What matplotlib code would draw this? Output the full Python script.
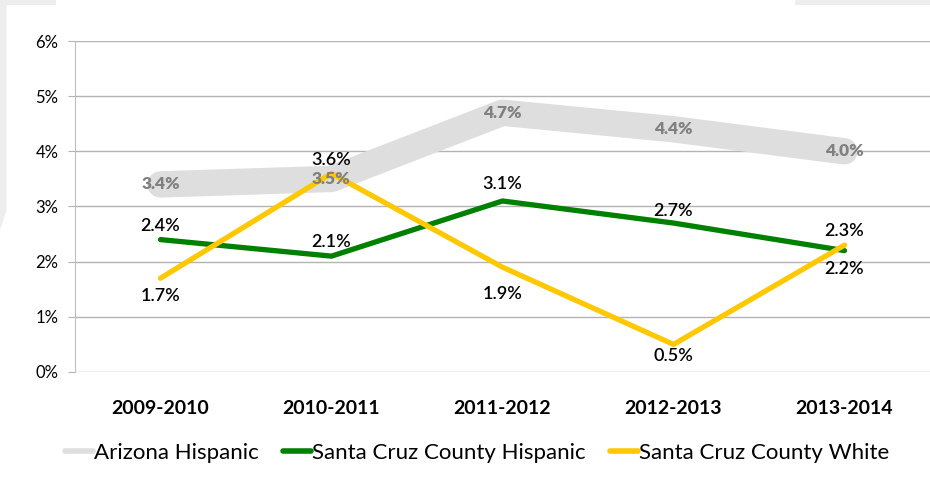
import matplotlib
matplotlib.use("Agg")
import matplotlib.pyplot as plt
from matplotlib.patches import Rectangle, Polygon

plt.rcParams['font.family'] = ['Lato', 'DejaVu Sans']

years = ["2009-2010", "2010-2011", "2011-2012", "2012-2013", "2013-2014"]
arizona_hispanic = [3.4, 3.5, 4.7, 4.4, 4.0]
santa_cruz_hispanic = [2.4, 2.1, 3.1, 2.7, 2.2]
santa_cruz_white = [1.7, 3.6, 1.9, 0.5, 2.3]
y_ticks = [0, 1, 2, 3, 4, 5, 6]

# label offsets in points (positive = above the point)
green_offsets = [10, 10, 12, 9, -13]
yellow_offsets = [-13, 10, -19, -8, 10]

fig = plt.figure(figsize=(9.3, 4.79), dpi=100)
fig.patch.set_facecolor("white")

# light slide frame around the chart
fig.add_artist(Rectangle((0, 0.99), 0.06, 0.01, transform=fig.transFigure,
                         facecolor="#EDEDED", edgecolor="none"))
fig.add_artist(Rectangle((0.855, 0.99), 0.145, 0.01, transform=fig.transFigure,
                         facecolor="#EDEDED", edgecolor="none"))
fig.add_artist(Polygon([(0, 0.99), (0.007, 0.99), (0.007, 0.56), (0, 0.52)],
                       closed=True, transform=fig.transFigure,
                       facecolor="#EDEDED", edgecolor="none"))

ax = fig.add_axes([0.0806, 0.2234, 0.9194, 0.691])
x = list(range(len(years)))

ax.plot(x, arizona_hispanic, color="#DEDEDE", lw=19, solid_capstyle="round",
        solid_joinstyle="round", label="Arizona Hispanic", zorder=2)
ax.plot(x, santa_cruz_hispanic, color="#008000", lw=3.8, solid_capstyle="round",
        label="Santa Cruz County Hispanic", zorder=3)
ax.plot(x, santa_cruz_white, color="#FFC800", lw=3.8, solid_capstyle="round",
        label="Santa Cruz County White", zorder=4)

for xi, v in zip(x, arizona_hispanic):
    ax.annotate(f"{v:.1f}%", (xi, v), ha="center", va="center",
                fontsize=12.5, fontweight="heavy", color="#808080", zorder=5)
for xi, v, off in zip(x, santa_cruz_hispanic, green_offsets):
    ax.annotate(f"{v:.1f}%", (xi, v), xytext=(0, off), textcoords="offset points",
                ha="center", va="center", fontsize=13, fontweight="semibold",
                color="black", zorder=6)
for xi, v, off in zip(x, santa_cruz_white, yellow_offsets):
    ax.annotate(f"{v:.1f}%", (xi, v), xytext=(0, off), textcoords="offset points",
                ha="center", va="center", fontsize=13, fontweight="semibold",
                color="black", zorder=6)

ax.set_xlim(-0.5, len(years) - 0.5)
ax.set_ylim(0, 6)
ax.set_yticks(y_ticks)
ax.set_yticklabels([f"{t}%" for t in y_ticks], fontsize=12)
ax.set_xticks(x)
ax.set_xticklabels(years, fontsize=14, fontweight="bold")
ax.tick_params(axis="x", length=0, pad=20)
ax.tick_params(axis="y", length=5, color="#B3B3B3", pad=7)
ax.grid(axis="y", color="#B3B3B3", lw=1)
ax.set_axisbelow(True)
for side in ["top", "right", "bottom"]:
    ax.spines[side].set_visible(False)
ax.spines["left"].set_color("#BFBFBF")
ax.set_facecolor("none")

leg = fig.legend(loc="center", bbox_to_anchor=(0.513, 0.055), ncol=3,
                 frameon=False, fontsize=16, handlelength=1.25,
                 handletextpad=0.05, columnspacing=1.1)
for line in leg.get_lines():
    line.set_linewidth(4)

fig.savefig("out.png", dpi=100)
